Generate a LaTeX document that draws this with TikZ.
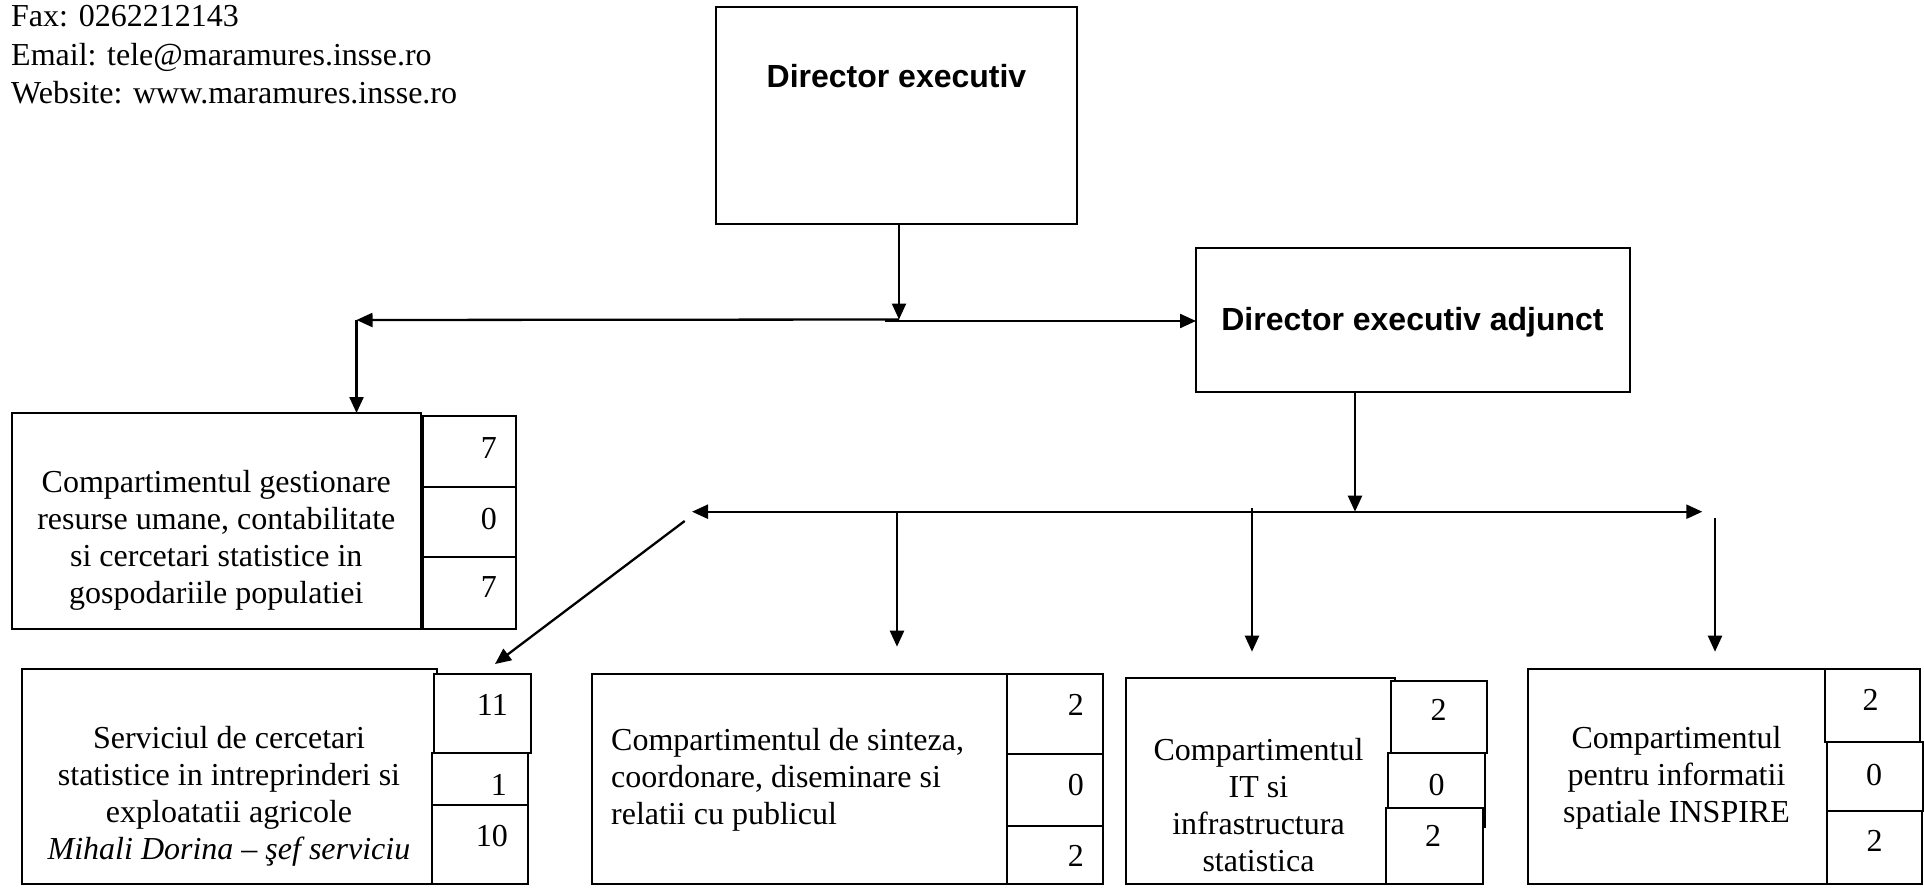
\documentclass[tikz,border=0pt]{standalone}
\usepackage{fontspec}
\setmainfont{Liberation Serif}
\newfontfamily\arialfont{Liberation Sans}
\usetikzlibrary{arrows.meta}
\tikzset{
  box/.style={draw, line width=2pt, inner sep=0pt, outer sep=0pt, anchor=north west, fill=white},
  txt/.style={font=\fontsize{32}{37}\selectfont, inner sep=0pt},
  dtxt/.style={font=\arialfont\bfseries\fontsize{32}{37}\selectfont, inner sep=0pt},
  arr/.style={line width=2.3pt, -{Triangle[length=16pt,width=14pt]}},
  darr/.style={line width=2.3pt, {Triangle[length=16pt,width=14pt]}-{Triangle[length=16pt,width=14pt]}},
}
\begin{document}
\begin{tikzpicture}[x=1pt,y=-1pt]
\useasboundingbox (0,0) rectangle (1924,888);

% header
\node[txt, anchor=base west] (fax) at (11,26.7) {Fax: 0262212143};
\node[txt, anchor=base west] (email) at (11,65.4) {Email: tele@maramures.insse.ro};
\node[txt, anchor=base west] (web) at (11,104) {Website: www.maramures.insse.ro};

% directors
\node[box, minimum width=361pt, minimum height=217pt] (dir) at (716,7) {};
\node[dtxt, anchor=base] (dirt) at (896.5,87.5) {Director executiv};
\node[box, minimum width=433.5pt, minimum height=143.5pt] (adj) at (1196,248) {};
\node[dtxt, anchor=base] (adjt) at (1412.5,330) {Director executiv adjunct};

% gestionare
\node[box, minimum width=408.5pt, minimum height=216pt] (gest) at (12,413) {};
\node[box, minimum width=93pt, minimum height=71pt] (gc1) at (423,416) {};
\node[box, minimum width=93pt, minimum height=70pt] (gc2) at (423,487) {};
\node[box, minimum width=93pt, minimum height=72pt] (gc3) at (423,557) {};
\node[txt, align=center] (gestt) at (216.3,540) {Compartimentul gestionare\\resurse umane, contabilitate\\si cercetari statistice in\\gospodariile populatiei};
\node[txt, anchor=base east] (gn1) at (497,458) {7};
\node[txt, anchor=base east] (gn2) at (497,529) {0};
\node[txt, anchor=base east] (gn3) at (497,597) {7};

% serviciul
\node[box, minimum width=415pt, minimum height=215pt] (serv) at (21.5,669) {};
\node[box, minimum width=96.4pt, minimum height=79.3pt] (sc1) at (434.3,674) {};
\node[box, minimum width=96pt, minimum height=51.7pt] (sc2) at (432.3,753.3) {};
\node[box, minimum width=96pt, minimum height=79pt] (sc3) at (432,805) {};
\node[txt, align=center] (servt) at (229,796.5) {Serviciul de cercetari\\statistice in intreprinderi si\\exploatatii agricole\\\textit{Mihali Dorina – şef serviciu}};
\node[txt, anchor=base east] (sn1) at (508,715) {11};
\node[txt, anchor=base east] (sn2) at (507,795) {1};
\node[txt, anchor=base east] (sn3) at (508,846) {10};

% sinteza
\node[box, minimum width=414.7pt, minimum height=210pt] (sint) at (592,674) {};
\node[box, minimum width=96pt, minimum height=80pt] (tc1) at (1006.7,674) {};
\node[box, minimum width=96pt, minimum height=72pt] (tc2) at (1006.7,754) {};
\node[box, minimum width=96pt, minimum height=58pt] (tc3) at (1006.7,826) {};
\node[txt, align=left, anchor=west] (sintt) at (611,780) {Compartimentul de sinteza,\\coordonare, diseminare si\\relatii cu publicul};
\node[txt, anchor=base east] (tn1) at (1084,715) {2};
\node[txt, anchor=base east] (tn2) at (1084,795) {0};
\node[txt, anchor=base east] (tn3) at (1084,866.7) {2};

% IT
\node[box, minimum width=269pt, minimum height=206pt] (it) at (1126,678) {};
\node[box, minimum width=96pt, minimum height=72.6pt] (ic1) at (1390.6,680.7) {};
\node[box, minimum width=97pt, minimum height=73.4pt] (ic2) at (1388.4,753.3) {};
\node[box, minimum width=96.8pt, minimum height=75.7pt] (ic3) at (1386.2,808.3) {};
\node[txt, align=center] (itt) at (1258.5,805) {Compartimentul\\IT si\\infrastructura\\statistica};
\node[txt, anchor=base] (in1) at (1438.6,720) {2};
\node[txt, anchor=base] (in2) at (1436.5,795) {0};
\node[txt, anchor=base] (in3) at (1433,846.7) {2};

% INSPIRE
\node[box, minimum width=392pt, minimum height=215pt] (insp) at (1528,669) {};
\node[box, minimum width=95pt, minimum height=72.7pt] (pc1) at (1825,669) {};
\node[box, minimum width=96pt, minimum height=69.3pt] (pc2) at (1826.5,741.7) {};
\node[box, minimum width=95.5pt, minimum height=73pt] (pc3) at (1826.5,811) {};
\node[txt, align=center] (inspt) at (1676.5,778) {Compartimentul\\pentru informatii\\spatiale INSPIRE};
\node[txt, anchor=base] (pn1) at (1870.5,710) {2};
\node[txt, anchor=base] (pn2) at (1874,785) {0};
\node[txt, anchor=base] (pn3) at (1874.5,851.7) {2};

% connectors, level 1
\coordinate (j1) at (899,319.5);
\coordinate (j1b) at (884.6,321);
\coordinate (gl) at (356.5,320);
\draw[arr] (j1 |- dir.south) -- (j1);
\draw[arr] (j1) -- (gl);
\draw[arr] (gl) -- (gl |- gest.north);
\draw[arr] (j1b) -- (adj.west |- j1b);

% connectors, level 2
\coordinate (j2) at (1355,511.7);
\coordinate (h2l) at (692,511.7);
\coordinate (h2r) at (1702.3,511.7);
\draw[arr] (j2 |- adj.south) -- (j2);
\draw[darr] (h2l) -- (h2r);
\coordinate (d1) at (684.7,521);
\coordinate (d2) at (495,664);
\draw[arr] (d1) -- (d2);
\coordinate (s1) at (897,511.7);
\coordinate (s1e) at (897,646.7);
\draw[arr] (s1) -- (s1e);
\coordinate (s2) at (1252,508);
\coordinate (s2e) at (1252,651.7);
\draw[arr] (s2) -- (s2e);
\coordinate (s3) at (1715,518);
\coordinate (s3e) at (1715,651.7);
\draw[arr] (s3) -- (s3e);
\end{tikzpicture}
\end{document}
